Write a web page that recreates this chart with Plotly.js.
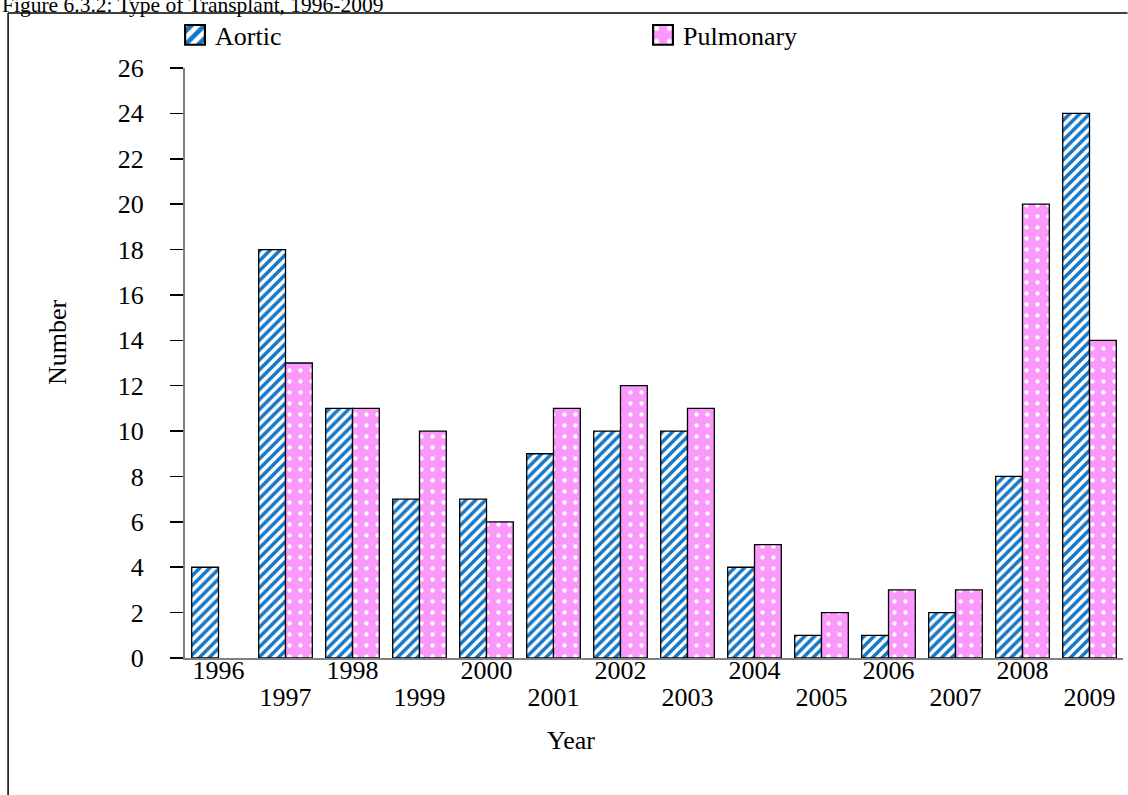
<!DOCTYPE html>
<html>
<head>
<meta charset="utf-8">
<script src="https://cdn.plot.ly/plotly-3.0.1.min.js"></script>
<style>
  html, body { margin: 0; padding: 0; background: #ffffff; }
  #chart { width: 1128px; height: 795px; }
</style>
</head>
<body>
<div id="chart"></div>
<script>
// Heart valve transplants by type, 1996-2009
const years = [1996, 1997, 1998, 1999, 2000, 2001, 2002, 2003, 2004, 2005, 2006, 2007, 2008, 2009];
const aortic = [4, 18, 11, 7, 7, 9, 10, 10, 4, 1, 1, 2, 8, 24];
// no pulmonary transplant recorded for 1996
const pulmonary = [null, 13, 11, 10, 6, 11, 12, 11, 5, 2, 3, 3, 20, 14];
const yTicks = [0, 2, 4, 6, 8, 10, 12, 14, 16, 18, 20, 22, 24, 26];

// even years sit on the first label row, odd years on the second
const upperYears = years.filter(y => y % 2 === 0);
const lowerYears = years.filter(y => y % 2 === 1);

const FONT = 'Liberation Serif, Times New Roman, serif';
const FS = 26;

const traces = [
  {
    type: 'bar', name: 'Aortic', x: years, y: aortic,
    marker: {
      color: '#ffffff',
      line: { color: '#000000', width: 1.3 },
      pattern: { shape: '/', fgcolor: '#1577c6', bgcolor: '#ffffff', size: 7, solidity: 0.5 }
    },
    hoverinfo: 'x+y'
  },
  {
    type: 'bar', name: 'Pulmonary', x: years, y: pulmonary,
    marker: {
      color: '#fb98fb',
      line: { color: '#000000', width: 1.3 },
      pattern: { shape: '.', fgcolor: '#ffffff', bgcolor: '#fb98fb', size: 11, solidity: 0.12 }
    },
    hoverinfo: 'x+y'
  },
  // carrier for the second row of year labels
  {
    type: 'scatter', mode: 'none', x: lowerYears, y: lowerYears.map(() => null),
    xaxis: 'x2', yaxis: 'y', showlegend: false, hoverinfo: 'skip'
  }
];

// plot area: left 185, right 1123.5, top 68, bottom 658 (px)
const L = 185, R = 1123.5, T = 68, B = 658;
const px = v => (v - L) / (R - L);
const py = v => (B - v) / (B - T);

const xCommon = {
  type: 'linear', range: [1995.5, 2009.5], fixedrange: true,
  tickmode: 'array', ticks: '', ticklen: 0, showgrid: false, zeroline: false,
  tickfont: { family: FONT, size: FS, color: '#000000' }
};

const layout = {
  width: 1128, height: 795,
  margin: { l: L, r: 1128 - R, t: T, b: 795 - B, pad: 0 },
  paper_bgcolor: '#ffffff', plot_bgcolor: '#ffffff',
  font: { family: FONT, size: FS, color: '#000000' },
  barmode: 'group', bargap: 0.2, bargroupgap: 0,
  showlegend: true,
  legend: {
    orientation: 'h', x: px(175), xanchor: 'left', y: py(35), yanchor: 'middle',
    entrywidth: 423, entrywidthmode: 'pixels',
    font: { family: FONT, size: FS, color: '#000000' },
    bgcolor: 'rgba(0,0,0,0)', borderwidth: 0, traceorder: 'normal'
  },
  xaxis: Object.assign({}, xCommon, {
    tickvals: upperYears, ticktext: upperYears.map(String),
    showline: true, linecolor: '#808080', linewidth: 2,
    ticklabelstandoff: -12
  }),
  xaxis2: Object.assign({}, xCommon, {
    overlaying: 'x', anchor: 'y', side: 'bottom',
    tickvals: lowerYears, ticktext: lowerYears.map(String),
    showline: false,
    ticklabelstandoff: 21
  }),
  yaxis: {
    range: [0, 26], fixedrange: true,
    tickmode: 'array', tickvals: yTicks, ticktext: yTicks.map(String),
    ticks: 'outside', ticklen: 13, tickwidth: 1.5, tickcolor: '#000000',
    showgrid: false, zeroline: false,
    showline: true, linecolor: '#808080', linewidth: 2,
    tickfont: { family: FONT, size: FS, color: '#000000' },
    ticklabelstandoff: 21
  },
  annotations: [
    { text: 'Figure 6.3.2: Type of Transplant, 1996-2009', xref: 'paper', yref: 'paper',
      x: px(0), xanchor: 'left', y: py(5), yanchor: 'middle', showarrow: false,
      font: { family: FONT, size: 21.5, color: '#000000' } },
    { text: 'Year', xref: 'paper', yref: 'paper', x: px(571), xanchor: 'center',
      y: py(740), yanchor: 'middle', showarrow: false,
      font: { family: FONT, size: FS, color: '#000000' } },
    { text: 'Number', xref: 'paper', yref: 'paper', x: px(57), xanchor: 'center',
      y: py(342), yanchor: 'middle', showarrow: false, textangle: -90,
      font: { family: FONT, size: FS, color: '#000000' } }
  ],
  shapes: [
    // outer frame: top and left edges
    { type: 'line', xref: 'paper', yref: 'paper', x0: px(8), x1: px(1128), y0: py(13), y1: py(13),
      line: { color: '#000000', width: 1.5 } },
    { type: 'line', xref: 'paper', yref: 'paper', x0: px(8), x1: px(8), y0: py(13), y1: py(795),
      line: { color: '#000000', width: 1.5 } }
  ]
};

Plotly.newPlot('chart', traces, layout, { displayModeBar: false, staticPlot: true }).then(gd => {
  // enlarge the legend swatches
  gd.querySelectorAll('.legend .legendpoints path').forEach(p => {
    const t = p.getAttribute('transform') || '';
    p.setAttribute('transform', t + ' scale(1.65)');
  });
});
</script>
</body>
</html>
